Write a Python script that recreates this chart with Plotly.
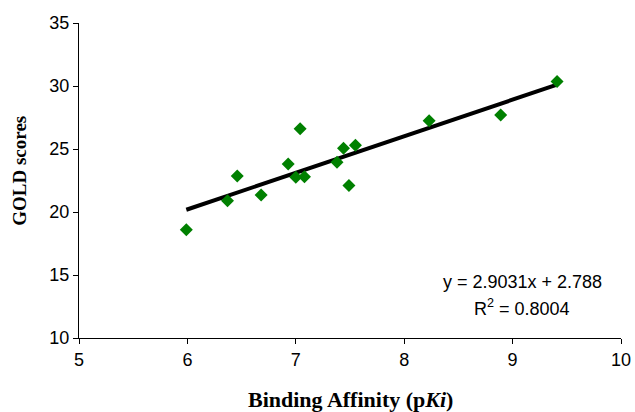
import plotly.graph_objects as go

# Data
pki = [5.99, 6.37, 6.46, 6.68, 6.93, 7.00, 7.08, 7.04, 7.38, 7.44, 7.55, 7.49, 8.23, 8.89, 9.41]
gold = [18.6, 20.9, 22.85, 21.35, 23.8, 22.75, 22.8, 26.6, 23.95, 25.05, 25.3, 22.1, 27.25, 27.7, 30.35]

# Linear trendline coefficients shown on the chart
slope = 2.9031
intercept = 2.788

x_ticks = [5, 6, 7, 8, 9, 10]
y_ticks = [10, 15, 20, 25, 30, 35]

trend_x = [min(pki), max(pki)]
trend_y = [slope * v + intercept for v in trend_x]

fig = go.Figure()
fig.add_trace(go.Scatter(
    x=trend_x, y=trend_y, mode="lines",
    line=dict(color="black", width=4), showlegend=False, hoverinfo="skip"))
fig.add_trace(go.Scatter(
    x=pki, y=gold, mode="markers",
    marker=dict(symbol="diamond", size=10, color="#008000", line=dict(width=0)),
    showlegend=False))

tick_font = dict(family="Arial, Liberation Sans, sans-serif", size=18, color="black")
title_font = "Times New Roman, Liberation Serif, serif"

fig.update_layout(
    width=635, height=412,
    margin=dict(l=79, r=14, t=23, b=74),
    paper_bgcolor="white", plot_bgcolor="white",
    xaxis=dict(range=[5, 10], tickvals=x_ticks, showgrid=False, zeroline=False,
               showline=True, linecolor="black", linewidth=1, automargin=False,
               ticks="outside", ticklen=5, tickcolor="black", tickfont=tick_font),
    yaxis=dict(range=[10, 35], tickvals=y_ticks, showgrid=False, zeroline=False,
               showline=True, linecolor="black", linewidth=1, automargin=False,
               ticks="outside", ticklen=5, tickcolor="black", tickfont=tick_font),
    annotations=[
        dict(text="<b>Binding Affinity (p<i>Ki</i>)</b>", xref="paper", yref="paper",
             x=0.5, y=0, xanchor="center", yanchor="middle", yshift=-61,
             showarrow=False, font=dict(family=title_font, size=22, color="black")),
        dict(text="<b>GOLD scores</b>", xref="paper", yref="paper",
             x=0, y=0.531, xanchor="center", yanchor="middle", xshift=-59,
             textangle=-90, showarrow=False,
             font=dict(family=title_font, size=19, color="black")),
        dict(text="y = 2.9031x + 2.788", x=9.09, y=14.44, xanchor="center", yanchor="middle",
             showarrow=False, font=dict(family="Arial, Liberation Sans, sans-serif", size=18, color="black")),
        dict(text="R<sup>2</sup> = 0.8004", x=9.09, y=12.4, xanchor="center", yanchor="middle",
             showarrow=False, font=dict(family="Arial, Liberation Sans, sans-serif", size=18, color="black")),
    ],
)

fig.write_html("out.html")
